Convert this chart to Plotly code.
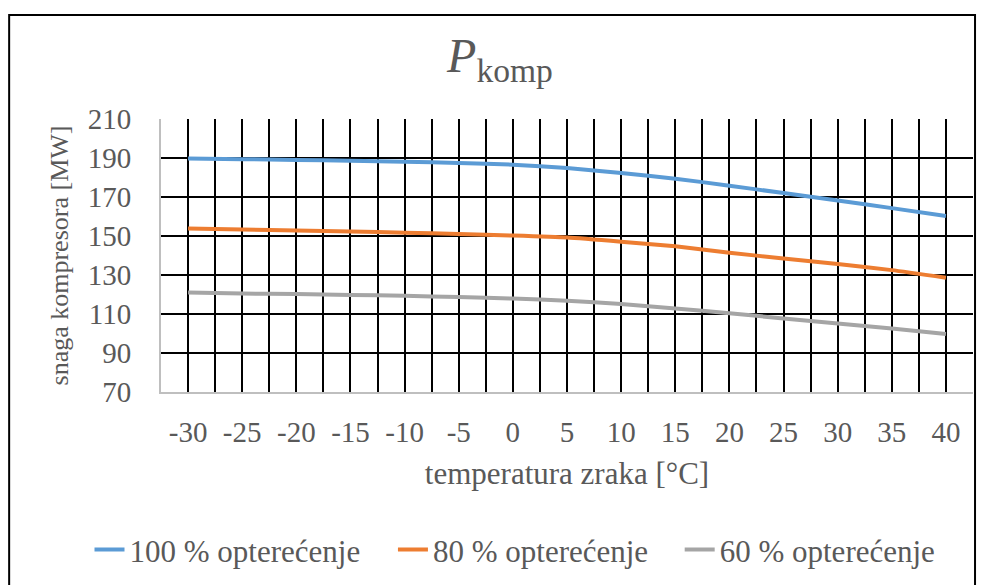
#!/usr/bin/env python3

import plotly.graph_objects as go

# temperatura zraka [°C]
temperature = [-30, -25, -20, -15, -10, -5, 0, 5, 10, 15, 20, 25, 30, 35, 40]

# snaga kompresora [MW]
load_100 = [189.7, 189.4, 189.0, 188.6, 188.1, 187.5, 186.6, 184.9, 182.3,
            179.4, 175.8, 172.0, 168.2, 164.3, 160.3]
load_80 = [153.8, 153.3, 152.8, 152.3, 151.7, 151.0, 150.2, 149.2, 147.1,
           144.7, 141.4, 138.5, 135.6, 132.5, 128.6]
load_60 = [121.0, 120.5, 120.2, 119.8, 119.3, 118.7, 117.9, 116.8, 115.1,
           112.8, 110.4, 107.7, 105.1, 102.6, 99.8]

y_ticks = [70, 90, 110, 130, 150, 170, 190, 210]

series = [
    ('100 % opterećenje', load_100, '#5B9BD5'),
    ('80 % opterećenje', load_80, '#ED7D31'),
    ('60 % opterećenje', load_60, '#A5A5A5'),
]

FONT = 'Liberation Serif, Times New Roman, serif'
TEXT = '#595959'

# left edge of each legend entry, as a fraction of the figure width
LEGEND_X = [0.083, 0.392, 0.684]


def main() -> None:
    fig = go.Figure()
    legend_ids = ['legend', 'legend2', 'legend3']
    for (name, values, color), lid in zip(series, legend_ids):
        fig.add_trace(go.Scatter(
            x=temperature,
            y=values,
            name=name,
            mode='lines',
            legend=lid,
            line=dict(color=color, width=4, shape='spline', smoothing=0.5),
        ))

    fig.update_xaxes(
        range=[-32.5, 42.5],
        tickvals=temperature,
        ticktext=[str(t) for t in temperature],
        showgrid=True,
        gridcolor='black',
        gridwidth=2,
        minor=dict(tick0=-32.5, dtick=5, showgrid=True,
                   gridcolor='black', gridwidth=2),
        showline=True,
        linecolor='#BFBFBF',
        linewidth=2,
        zeroline=False,
        ticks='',
        automargin=False,
        ticklabelstandoff=13,
        tickfont=dict(family=FONT, size=29, color=TEXT),
        title=dict(text='temperatura zraka [°C]', standoff=16,
                   font=dict(family=FONT, size=31, color=TEXT)),
    )
    fig.update_yaxes(
        range=[70, 210],
        tickvals=y_ticks,
        showgrid=True,
        gridcolor='black',
        gridwidth=2,
        showline=True,
        linecolor='#BFBFBF',
        linewidth=2,
        zeroline=False,
        ticks='',
        automargin=False,
        ticklabelstandoff=22,
        tickfont=dict(family=FONT, size=29, color=TEXT),
        title=dict(text='snaga kompresora [MW]', standoff=12,
                   font=dict(family=FONT, size=26, color=TEXT)),
    )

    # outer chart border (page adds an 8 px body margin)
    fig.add_shape(
        type='rect', xref='paper', yref='paper',
        x0=-0.187, x1=1.0025, y0=-0.75, y1=1.381,
        line=dict(color='black', width=2), layer='below',
    )

    legend_style = dict(
        orientation='h',
        xref='container', xanchor='left',
        y=0.061, yref='container', yanchor='middle',
        font=dict(family=FONT, size=31, color=TEXT),
        bgcolor='rgba(0,0,0,0)',
    )

    fig.update_layout(
        width=982,
        height=577,
        margin=dict(l=153, r=17, t=111, b=193),
        paper_bgcolor='white',
        plot_bgcolor='white',
        title=dict(
            text='<i>P</i><sub>komp</sub>',
            x=0.501, xref='container', xanchor='center',
            y=0.889, yref='container', yanchor='bottom',
            font=dict(family=FONT, size=48, color=TEXT),
            automargin=False,
        ),
        showlegend=True,
        legend=dict(x=LEGEND_X[0], **legend_style),
        legend2=dict(x=LEGEND_X[1], **legend_style),
        legend3=dict(x=LEGEND_X[2], **legend_style),
    )

    fig.write_html('out.html')


if __name__ == '__main__':
    main()
